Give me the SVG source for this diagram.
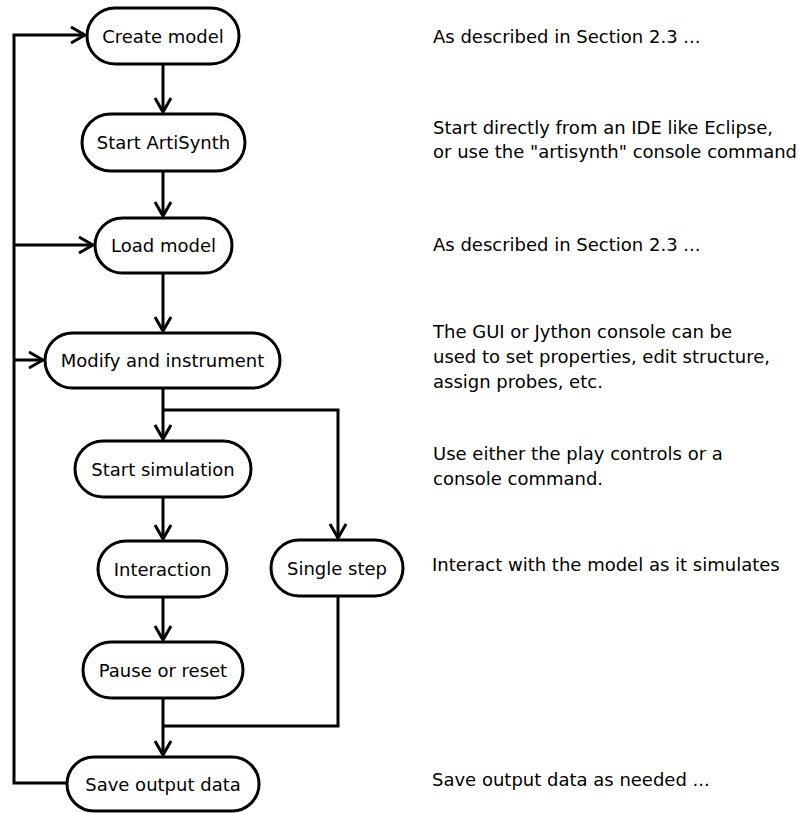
<svg xmlns="http://www.w3.org/2000/svg" width="801" height="813" viewBox="0 0 801 813">
  <style>
    .box { fill: #ffffff; stroke: #000000; stroke-width: 3; }
    .lbl { font-family: "DejaVu Sans", sans-serif; font-size: 18px; fill: #000000; text-anchor: middle; dominant-baseline: central; }
    .note { font-family: "DejaVu Sans", sans-serif; font-size: 18px; fill: #000000; }
    .wire { fill: none; stroke: #000000; stroke-width: 3; }
  </style>
  <defs>
    <marker id="arrow" viewBox="0 0 20 20" refX="18" refY="10" markerWidth="20" markerHeight="20" markerUnits="userSpaceOnUse" orient="auto">
      <path d="M4,2 L18,10 L4,18" fill="none" stroke="#000000" stroke-width="3"/>
    </marker>
  </defs>

  <rect width="801" height="813" fill="#ffffff"/>

  <!-- connectors -->
  <g id="connectors">
    <path class="wire" d="M163,64 V112" marker-end="url(#arrow)"/>
    <path class="wire" d="M163,171 V216" marker-end="url(#arrow)"/>
    <path class="wire" d="M163,273 V331" marker-end="url(#arrow)"/>
    <path class="wire" d="M163,388 V439" marker-end="url(#arrow)"/>
    <path class="wire" d="M163,410 H338 V538" marker-end="url(#arrow)"/>
    <path class="wire" d="M163,497 V539" marker-end="url(#arrow)"/>
    <path class="wire" d="M163,597 V640" marker-end="url(#arrow)"/>
    <path class="wire" d="M163,698 V755" marker-end="url(#arrow)"/>
    <path class="wire" d="M338,596 V726 H163"/>
    <path class="wire" d="M67,783 H14 V35 H85" marker-end="url(#arrow)"/>
    <path class="wire" d="M14,245 H93" marker-end="url(#arrow)"/>
    <path class="wire" d="M14,360 H43" marker-end="url(#arrow)"/>
  </g>

  <g id="create-model">
    <rect class="box" x="87" y="8" width="152" height="56" rx="28"/>
    <text class="lbl" x="163" y="36">Create model</text>
  </g>
  <g id="start-artisynth">
    <rect class="box" x="82" y="114" width="163" height="57" rx="28.5"/>
    <text class="lbl" x="163.5" y="142.5">Start ArtiSynth</text>
  </g>
  <g id="load-model">
    <rect class="box" x="95" y="218" width="137" height="55" rx="27.5"/>
    <text class="lbl" x="163.5" y="245.5">Load model</text>
  </g>
  <g id="modify-instrument">
    <rect class="box" x="45" y="333" width="235" height="55" rx="27.5"/>
    <text class="lbl" x="162.5" y="360.5">Modify and instrument</text>
  </g>
  <g id="start-simulation">
    <rect class="box" x="75" y="441" width="176" height="56" rx="28"/>
    <text class="lbl" x="163" y="469">Start simulation</text>
  </g>
  <g id="interaction">
    <rect class="box" x="98" y="541" width="129" height="56" rx="28"/>
    <text class="lbl" x="162.5" y="569">Interaction</text>
  </g>
  <g id="single-step">
    <rect class="box" x="271" y="540" width="132" height="56" rx="28"/>
    <text class="lbl" x="337" y="568">Single step</text>
  </g>
  <g id="pause-reset">
    <rect class="box" x="83" y="642" width="160" height="56" rx="28"/>
    <text class="lbl" x="163" y="670">Pause or reset</text>
  </g>
  <g id="save-output">
    <rect class="box" x="67" y="757" width="192" height="54" rx="27"/>
    <text class="lbl" x="163" y="784">Save output data</text>
  </g>

  <g id="notes">
    <text class="note" x="433" y="43">As described in Section 2.3 ...</text>
    <text class="note" x="433" y="134">Start directly from an IDE like Eclipse,</text>
    <text class="note" x="433" y="158">or use the "artisynth" console command</text>
    <text class="note" x="433" y="251">As described in Section 2.3 ...</text>
    <text class="note" x="433" y="338">The GUI or Jython console can be</text>
    <text class="note" x="433" y="363">used to set properties, edit structure,</text>
    <text class="note" x="433" y="388">assign probes, etc.</text>
    <text class="note" x="433" y="460">Use either the play controls or a</text>
    <text class="note" x="433" y="485">console command.</text>
    <text class="note" x="432" y="571">Interact with the model as it simulates</text>
    <text class="note" x="432" y="786">Save output data as needed ...</text>
  </g>
</svg>
